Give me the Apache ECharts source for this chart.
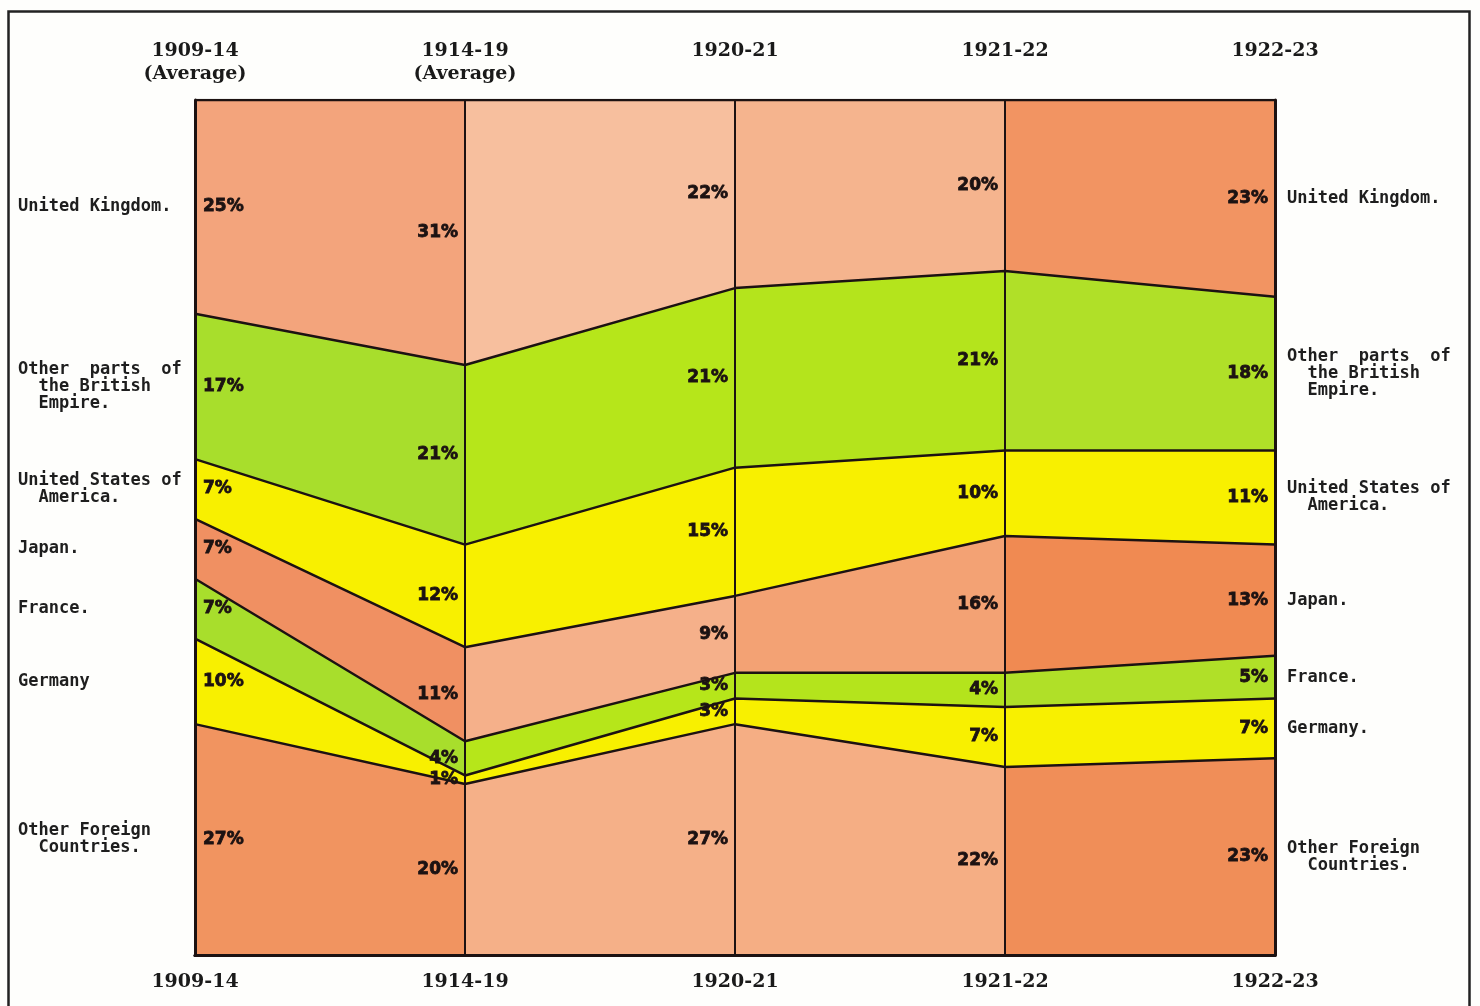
<!DOCTYPE html>
<html>
<head>
<meta charset="utf-8">
<script src="https://cdn.jsdelivr.net/npm/echarts@6/dist/echarts.min.js"></script>
<style>
html,body{margin:0;padding:0;background:#fefefc;}
#chart{width:1480px;height:1006px;}
</style>
</head>
<body>
<div id="chart"></div>
<script>
// ---- data ----
const periods = ['1909-14', '1914-19', '1920-21', '1921-22', '1922-23'];
const topPeriods = ['1909-14\n(Average)', '1914-19\n(Average)', '1920-21', '1921-22', '1922-23'];

// stacked bottom -> top
const otherForeign = [27, 20, 27, 22, 23];
const germany = [10, 1, 3, 7, 7];
const france = [7, 4, 3, 4, 5];
const japan = [7, 11, 9, 16, 13];
const unitedStates = [7, 12, 15, 10, 11];
const otherBritish = [17, 21, 21, 21, 18];
const unitedKingdom = [25, 31, 22, 20, 23];

const seriesNames = ['Other Foreign Countries', 'Germany', 'France', 'Japan',
  'United States of America', 'Other parts of the British Empire', 'United Kingdom'];
const leftNames = ['Other Foreign\n  Countries.', 'Germany', 'France.', 'Japan.',
  'United States of\n  America.', 'Other  parts  of\n  the British\n  Empire.', 'United Kingdom.'];
const rightNames = ['Other Foreign\n  Countries.', 'Germany.', 'France.', 'Japan.',
  'United States of\n  America.', 'Other  parts  of\n  the British\n  Empire.', 'United Kingdom.'];

const seriesValues = [otherForeign, germany, france, japan, unitedStates, otherBritish, unitedKingdom];

// ---- styles ----
const G = echarts.graphic.LinearGradient;
function cols(c) {
  const s = [];
  c.forEach((col, i) => {
    s.push({ offset: i / c.length, color: col });
    s.push({ offset: (i + 1) / c.length, color: col });
  });
  return new G(0, 0, 1, 0, s);
}
const orangeUK = cols(['#f3a47c', '#f7bf9e', '#f5b48e', '#f29462']);
const orangeJP = cols(['#f09062', '#f5b08a', '#f3a274', '#f08a52']);
const orangeOF = cols(['#f19460', '#f5b088', '#f5ae84', '#f08e58']);
const green = cols(['#a8de2c', '#b6e61a', '#b4e41c', '#b0e028']);
const yellow = '#f8f000';
const fills = [orangeOF, yellow, green, orangeJP, yellow, green, orangeUK];
const ink = '#1c1212';

// ---- series ----
const series = [];
seriesValues.forEach((vals, k) => {
  series.push({
    name: seriesNames[k],
    type: 'line',
    stack: 'total',
    data: vals,
    symbol: 'none',
    lineStyle: { color: ink, width: 2.5 },
    areaStyle: { color: fills[k], opacity: 1 },
    z: 2
  });
});

// percent labels at band midpoints
const pctData = [];
const leftData = [];
const rightData = [];
for (let i = 0; i < periods.length; i++) {
  let below = 0;
  seriesValues.forEach((vals, k) => {
    const mid = below + vals[i] / 2;
    pctData.push({
      value: [i, mid, vals[i]],
      label: i === 0 ? { position: 'right', distance: 8 } : { position: 'left', distance: 7 }
    });
    if (i === 0) leftData.push({ value: [i, mid], name: leftNames[k] });
    if (i === periods.length - 1) rightData.push({ value: [i, mid], name: rightNames[k] });
    below += vals[i];
  });
}

const hidden = { opacity: 1, color: 'rgba(0,0,0,0)' };
series.push({
  type: 'scatter', data: pctData, symbolSize: 0, clip: false, z: 6, silent: true,
  itemStyle: hidden,
  label: {
    show: true,
    formatter: p => p.value[2] + '%',
    fontFamily: 'DejaVu Sans', fontWeight: 'bold', fontSize: 17, color: ink,
    textBorderColor: ink, textBorderWidth: 0.8
  }
});
const nameFont = { fontFamily: 'DejaVu Sans Mono', fontWeight: 'bold', fontSize: 17, color: '#1e1e1e', lineHeight: 17 };
series.push({
  type: 'scatter', data: leftData, symbolSize: 0, clip: false, z: 6, silent: true,
  itemStyle: hidden,
  label: Object.assign({ show: true, formatter: p => p.name, position: 'left', distance: 177, align: 'left' }, nameFont)
});
series.push({
  type: 'scatter', data: rightData, symbolSize: 0, clip: false, z: 6, silent: true,
  itemStyle: hidden,
  label: Object.assign({ show: true, formatter: p => p.name, position: 'right', distance: 12, align: 'left' }, nameFont)
});

const axisLabelFont = { fontFamily: 'DejaVu Serif', fontWeight: 'bold', fontSize: 19, color: '#1a1a1a' };

const chart = echarts.init(document.getElementById('chart'));
chart.setOption({
  animation: false,
  backgroundColor: '#fefefc',
  grid: { left: 195, right: 205, top: 100, bottom: 51 },
  graphic: [{
    type: 'rect', left: 6, top: 9, z: -1,
    shape: { width: 1461, height: 1010 },
    style: { fill: 'none', stroke: '#222', lineWidth: 2.5 }
  }],
  xAxis: [{
    type: 'category', position: 'bottom', data: periods, boundaryGap: false, z: 10,
    axisLine: { show: true, lineStyle: { color: ink, width: 3 } },
    axisTick: { show: false },
    axisLabel: Object.assign({ margin: 18 }, axisLabelFont),
    splitLine: { show: true, lineStyle: { color: ink, width: 2 } }
  }, {
    type: 'category', position: 'top', data: topPeriods, boundaryGap: false, z: 10,
    axisLine: { show: true, lineStyle: { color: ink, width: 3 } },
    axisTick: { show: false },
    axisLabel: Object.assign({
      margin: 14, lineHeight: 23,
      formatter: v => (v.indexOf('\n') >= 0 ? v : v + '\n ')
    }, axisLabelFont),
    splitLine: { show: false }
  }],
  yAxis: [{
    type: 'value', min: 0, max: 100, position: 'left', z: 10,
    axisLine: { show: true, lineStyle: { color: ink, width: 3 } },
    axisTick: { show: false }, axisLabel: { show: false }, splitLine: { show: false }
  }, {
    type: 'value', min: 0, max: 100, position: 'right', z: 10,
    axisLine: { show: true, lineStyle: { color: ink, width: 3 } },
    axisTick: { show: false }, axisLabel: { show: false }, splitLine: { show: false }
  }],
  series: series
});
</script>
</body>
</html>
